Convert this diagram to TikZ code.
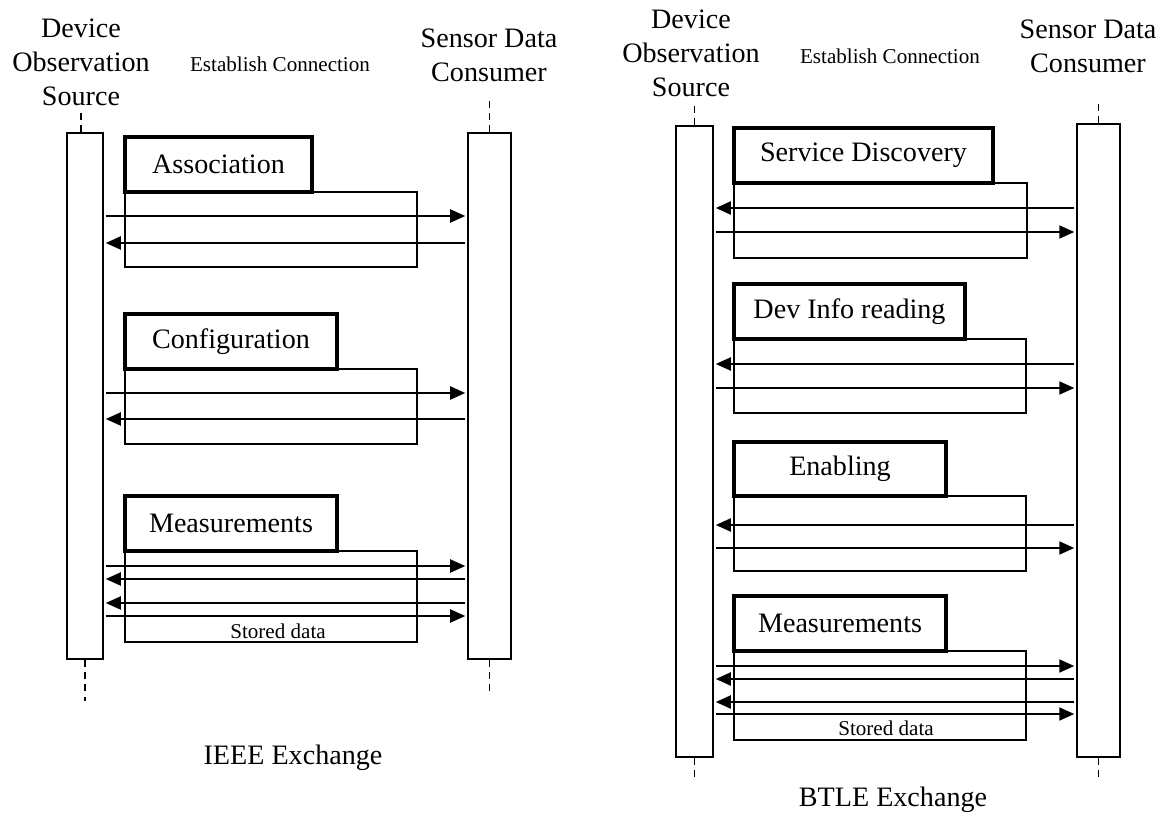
\documentclass[tikz,border=0pt]{standalone}
\usepackage{fontspec}
\setmainfont{Liberation Serif}
\usetikzlibrary{arrows.meta,fit,calc}

\begin{document}
\begin{tikzpicture}[x=0.03cm,y=-0.03cm,
    lifeline/.style={draw,line width=1.3pt,inner sep=0pt},
    phase/.style={draw,line width=2.6pt,inner sep=0pt},
    phasetext/.style={font=\fontsize{24}{29}\selectfont},
    frame/.style={draw,line width=0.9pt,inner sep=0pt},
    msg/.style={line width=1.7pt,-{Triangle[length=0.45cm,width=0.39cm]},shorten <=0.06cm,shorten >=0.06cm},
    tail/.style={line width=1.5pt,dash pattern=on 6pt off 4.5pt},
    actor/.style={align=center,font=\fontsize{24}{29}\selectfont},
    note/.style={font=\fontsize{18}{21}\selectfont},
    title/.style={font=\fontsize{24}{29}\selectfont}]
    \useasboundingbox (0,0) rectangle (1173,819);

    % IEEE exchange
    \node[lifeline, fit={(67,133) (103,659)}] (srcL) {};
    \node[lifeline, fit={(468,133) (511,659)}] (snkL) {};
    \draw[tail] ([xshift=-0.12cm]srcL.north) -- ++(0,-21);
    \draw[tail] (snkL.north) -- ++(0,-34);
    \draw[tail] (srcL.south) -- ++(0,41);
    \draw[tail] (snkL.south) -- ++(0,36);
    \node[actor] (devL) at (81,62) {Device\\Observation\\Source};
    \node[actor] (sdcL) at (489,55) {Sensor Data\\Consumer};
    \node[note] (estL) at (280,64) {Establish Connection};

    \node[frame, fit={(125,192) (417,267)}] (assocF) {};
    \node[phase, fit={(125,137) (312,192)}] (assoc) {};
    \node[phasetext] at (assoc) {Association};
    \draw[msg] (srcL.east |- 0,216) -- (snkL.west |- 0,216);
    \draw[msg] (snkL.west |- 0,243) -- (srcL.east |- 0,243);

    \node[frame, fit={(125,369) (417,444)}] (confF) {};
    \node[phase, fit={(125,314) (337,369)}] (conf) {};
    \node[phasetext] at (conf) {Configuration};
    \draw[msg] (srcL.east |- 0,393) -- (snkL.west |- 0,393);
    \draw[msg] (snkL.west |- 0,419) -- (srcL.east |- 0,419);

    \node[frame, fit={(125,551) (417,642)}] (measLF) {};
    \node[phase, fit={(125,496) (337,551)}] (measL) {};
    \node[phasetext] at (measL) {Measurements};
    \draw[msg] (srcL.east |- 0,566) -- (snkL.west |- 0,566);
    \draw[msg] (snkL.west |- 0,579) -- (srcL.east |- 0,579);
    \draw[msg] (snkL.west |- 0,603) -- (srcL.east |- 0,603);
    \draw[msg] (srcL.east |- 0,616) -- (snkL.west |- 0,616);
    \node[note] (storL) at (278,631) {Stored data};
    \node[title] (ieee) at (293,758) {IEEE Exchange};

    % BTLE exchange
    \node[lifeline, fit={(676,126) (713,757)}] (srcR) {};
    \node[lifeline, fit={(1077,124) (1120,757)}] (snkR) {};
    \draw[tail] (srcR.north) -- ++(0,-23);
    \draw[tail] (snkR.north) -- ++(0,-21);
    \draw[tail] (srcR.south) -- ++(0,20);
    \draw[tail] (snkR.south) -- ++(0,20);
    \node[actor] (devR) at (691,53) {Device\\Observation\\Source};
    \node[actor] (sdcR) at (1088,46) {Sensor Data\\Consumer};
    \node[note] (estR) at (890,56) {Establish Connection};

    \node[frame, fit={(734,183) (1027,258)}] (discF) {};
    \node[phase, fit={(734,128) (993,183)}] (disc) {};
    \node[phasetext] at (disc) {Service Discovery};
    \draw[msg] (snkR.west |- 0,208) -- (srcR.east |- 0,208);
    \draw[msg] (srcR.east |- 0,232) -- (snkR.west |- 0,232);

    \node[frame, fit={(734,339) (1026,413)}] (infoF) {};
    \node[phase, fit={(734,284) (965,339)}] (info) {};
    \node[phasetext] at (info) {Dev Info reading};
    \draw[msg] (snkR.west |- 0,364) -- (srcR.east |- 0,364);
    \draw[msg] (srcR.east |- 0,388) -- (snkR.west |- 0,388);

    \node[frame, fit={(734,496) (1026,571)}] (enabF) {};
    \node[phase, fit={(734,442) (946,496)}] (enab) {};
    \node[phasetext] at (enab) {Enabling};
    \draw[msg] (snkR.west |- 0,525) -- (srcR.east |- 0,525);
    \draw[msg] (srcR.east |- 0,548) -- (snkR.west |- 0,548);

    \node[frame, fit={(734,651) (1026,740)}] (measRF) {};
    \node[phase, fit={(734,596) (946,651)}] (measR) {};
    \node[phasetext] at (measR) {Measurements};
    \draw[msg] (srcR.east |- 0,666) -- (snkR.west |- 0,666);
    \draw[msg] (snkR.west |- 0,679) -- (srcR.east |- 0,679);
    \draw[msg] (snkR.west |- 0,702) -- (srcR.east |- 0,702);
    \draw[msg] (srcR.east |- 0,714) -- (snkR.west |- 0,714);
    \node[note] (storR) at (886,728) {Stored data};
    \node[title] (btle) at (893,800) {BTLE Exchange};
\end{tikzpicture}
\end{document}
